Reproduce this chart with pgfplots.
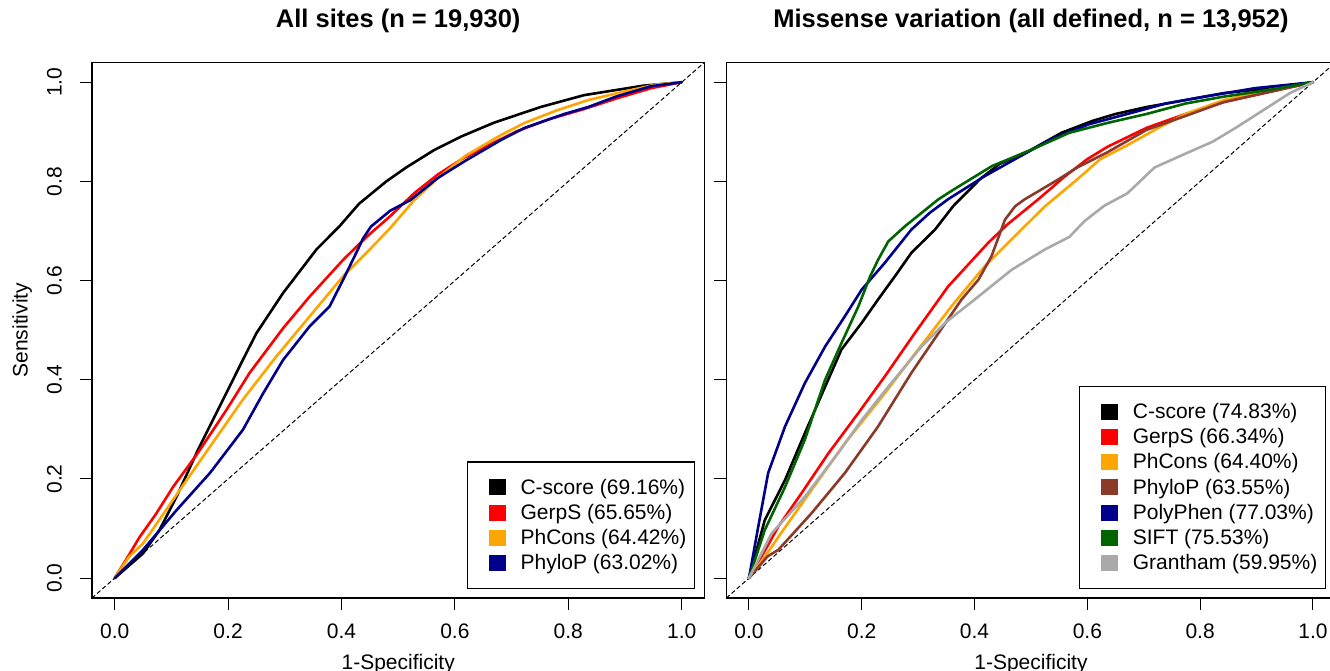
\documentclass[border=0pt]{standalone}
\usepackage{pgfplots}
\pgfplotsset{compat=1.18}
\usepackage{fontspec}
\setmainfont{Liberation Sans}
\definecolor{cOrange}{RGB}{255,165,0}
\definecolor{cBrown}{RGB}{139,58,42}
\definecolor{cNavy}{RGB}{0,0,139}
\definecolor{cGreen}{RGB}{0,100,0}
\definecolor{cGray}{RGB}{169,169,169}
\newcommand{\fs}{\fontsize{21}{25}\selectfont}
\pgfplotsset{
  rocaxis/.style={
    scale only axis, height=535.6pt,
    xmin=-0.04, xmax=1.04, ymin=-0.04, ymax=1.04,
    axis line style={line width=1.4pt},
    tick style={line width=1pt, black},
    tick align=outside, major tick length=12pt,
    xtick={0,0.2,0.4,0.6,0.8,1}, ytick={0,0.2,0.4,0.6,0.8,1},
    xticklabels={0.0,0.2,0.4,0.6,0.8,1.0},
    xtick pos=lower, ytick pos=lower,
    every tick label/.append style={font=\fs, inner sep=0pt},
    xticklabel style={anchor=north},
    xticklabel shift=14pt,
    title style={font=\fontsize{25.5}{30}\selectfont\bfseries, at={(axis description cs:0.5,1.0541)}, anchor=base},
    xlabel style={font=\fs, at={(axis description cs:0.5,-0.1326)}, anchor=base},
    ylabel style={font=\fs},
    xlabel={1-Specificity},
    every axis plot/.append style={line width=2.6pt, line join=round, line cap=round},
    legend image code/.code={\path (0pt,0pt); \fill[#1,draw=none] (12pt,-8pt) rectangle (29pt,8pt);},
    legend cell align=left,
    legend style={draw=black, line width=1.4pt, fill=white, font=\fs,
      inner xsep=8pt, inner ysep=16pt, row sep=6.5pt,
      nodes={inner xsep=0pt, inner ysep=1pt},
      /tikz/every odd column/.append style={column sep=15pt}},
  }
}
\begin{document}
\begin{tikzpicture}[x=1pt,y=1pt]
\useasboundingbox (0,0) rectangle (1330,671);
\begin{axis}[rocaxis, width=612.4pt, at={(92pt,73pt)}, anchor=south west,
  title={All sites (n = 19,930)},
  yticklabels={0.0,0.2,0.4,0.6,0.8,1.0},
  yticklabel style={rotate=90, anchor=south},
  yticklabel shift=18pt,
  ylabel={Sensitivity},
  ylabel style={at={(axis description cs:-0.1053,0.5)}, anchor=base, rotate=0},
  legend style={at={(axis description cs:0.9847,0.0168)}, anchor=south east},
]
\addplot[black, line width=1pt, dash pattern=on 4pt off 3pt, forget plot] coordinates {(-0.04,-0.04)(1.04,1.04)};
\addplot[black] coordinates {(0,0)(0.05,0.05)(0.079,0.097)(0.109,0.164)(0.147,0.259)(0.185,0.346)(0.226,0.44)(0.25,0.494)(0.297,0.575)(0.356,0.663)(0.396,0.709)(0.431,0.755)(0.479,0.800)(0.514,0.828)(0.563,0.863)(0.612,0.891)(0.668,0.918)(0.751,0.950)(0.828,0.974)(0.932,0.993)(1,1)};
\addlegendentry{C-score (69.16\%)}
\addplot[red] coordinates {(0,0)(0.02,0.037)(0.044,0.083)(0.072,0.128)(0.103,0.184)(0.147,0.253)(0.197,0.339)(0.238,0.414)(0.297,0.504)(0.344,0.568)(0.403,0.642)(0.445,0.689)(0.486,0.73)(0.528,0.776)(0.57,0.814)(0.612,0.845)(0.654,0.87)(0.709,0.901)(0.765,0.925)(0.828,0.946)(0.884,0.967)(0.946,0.988)(1,1)};
\addlegendentry{GerpS (65.65\%)}
\addplot[cOrange] coordinates {(0,0)(0.026,0.044)(0.05,0.07)(0.115,0.178)(0.168,0.265)(0.226,0.36)(0.285,0.447)(0.344,0.528)(0.403,0.609)(0.45,0.663)(0.486,0.706)(0.528,0.762)(0.57,0.807)(0.619,0.852)(0.682,0.894)(0.723,0.918)(0.779,0.943)(0.835,0.964)(0.898,0.981)(0.953,0.995)(1,1)};
\addlegendentry{PhCons (64.42\%)}
\addplot[cNavy] coordinates {(0,0)(0.05,0.057)(0.109,0.137)(0.168,0.212)(0.226,0.299)(0.262,0.373)(0.297,0.44)(0.344,0.508)(0.379,0.548)(0.403,0.602)(0.429,0.663)(0.438,0.685)(0.452,0.709)(0.486,0.741)(0.521,0.762)(0.57,0.807)(0.619,0.842)(0.682,0.884)(0.723,0.908)(0.793,0.936)(0.835,0.95)(0.884,0.971)(0.946,0.992)(1,1)};
\addlegendentry{PhyloP (63.02\%)}
\end{axis}
\begin{axis}[rocaxis, width=609.1pt, at={(726.4pt,73pt)}, anchor=south west,
  title={Missense variation (all defined, n = 13,952)},
  yticklabels={},
  legend style={at={(axis description cs:0.9844,0.0168)}, anchor=south east},
]
\addplot[black, line width=1pt, dash pattern=on 4pt off 3pt, forget plot] coordinates {(-0.04,-0.04)(1.04,1.04)};
\addplot[black] coordinates {(0,0)(0.028,0.117)(0.064,0.198)(0.099,0.292)(0.135,0.386)(0.164,0.461)(0.2,0.515)(0.229,0.562)(0.259,0.609)(0.288,0.656)(0.33,0.703)(0.362,0.75)(0.41,0.805)(0.444,0.835)(0.499,0.863)(0.554,0.898)(0.609,0.922)(0.65,0.936)(0.705,0.95)(0.774,0.964)(0.842,0.978)(0.925,0.988)(1,1)};
\addlegendentry{C-score (74.83\%)}
\addplot[red] coordinates {(0,0)(0.033,0.065)(0.052,0.104)(0.093,0.171)(0.141,0.252)(0.194,0.333)(0.241,0.407)(0.294,0.494)(0.353,0.588)(0.424,0.676)(0.458,0.713)(0.513,0.764)(0.56,0.81)(0.60,0.845)(0.636,0.87)(0.705,0.908)(0.774,0.936)(0.842,0.96)(0.925,0.981)(1,1)};
\addlegendentry{GerpS (66.34\%)}
\addplot[cOrange] coordinates {(0,0)(0.033,0.051)(0.052,0.083)(0.111,0.178)(0.17,0.272)(0.241,0.373)(0.3,0.461)(0.359,0.548)(0.418,0.629)(0.477,0.696)(0.525,0.75)(0.582,0.804)(0.623,0.845)(0.671,0.873)(0.726,0.908)(0.774,0.936)(0.842,0.964)(0.925,0.985)(1,1)};
\addlegendentry{PhCons (64.40\%)}
\addplot[cBrown] coordinates {(0,0)(0.033,0.044)(0.052,0.057)(0.111,0.131)(0.17,0.212)(0.229,0.306)(0.288,0.414)(0.336,0.494)(0.377,0.562)(0.407,0.602)(0.43,0.649)(0.454,0.723)(0.472,0.75)(0.489,0.764)(0.513,0.78)(0.547,0.803)(0.582,0.828)(0.636,0.859)(0.705,0.904)(0.774,0.932)(0.842,0.96)(0.925,0.981)(1,1)};
\addlegendentry{PhyloP (63.55\%)}
\addplot[cNavy] coordinates {(0,0)(0.0165,0.104)(0.034,0.212)(0.064,0.306)(0.099,0.393)(0.135,0.467)(0.17,0.528)(0.2,0.582)(0.241,0.636)(0.288,0.703)(0.321,0.737)(0.353,0.764)(0.417,0.81)(0.472,0.845)(0.534,0.884)(0.602,0.915)(0.671,0.936)(0.739,0.957)(0.808,0.971)(0.897,0.988)(1,1)};
\addlegendentry{PolyPhen (77.03\%)}
\addplot[cGreen] coordinates {(0,0)(0.028,0.097)(0.064,0.184)(0.099,0.279)(0.135,0.4)(0.164,0.474)(0.194,0.548)(0.215,0.609)(0.229,0.642)(0.247,0.679)(0.277,0.71)(0.336,0.764)(0.362,0.783)(0.431,0.831)(0.499,0.863)(0.568,0.898)(0.636,0.918)(0.705,0.936)(0.774,0.957)(0.842,0.971)(0.925,0.985)(1,1)};
\addlegendentry{SIFT (75.53\%)}
\addplot[cGray] coordinates {(0,0)(0.040,0.09)(0.099,0.164)(0.158,0.252)(0.2,0.319)(0.247,0.386)(0.306,0.467)(0.348,0.515)(0.407,0.568)(0.466,0.622)(0.525,0.663)(0.568,0.688)(0.595,0.72)(0.63,0.751)(0.671,0.776)(0.719,0.828)(0.774,0.856)(0.822,0.88)(0.863,0.908)(0.911,0.943)(0.959,0.978)(1,1)};
\addlegendentry{Grantham (59.95\%)}
\end{axis}
\end{tikzpicture}
\end{document}
